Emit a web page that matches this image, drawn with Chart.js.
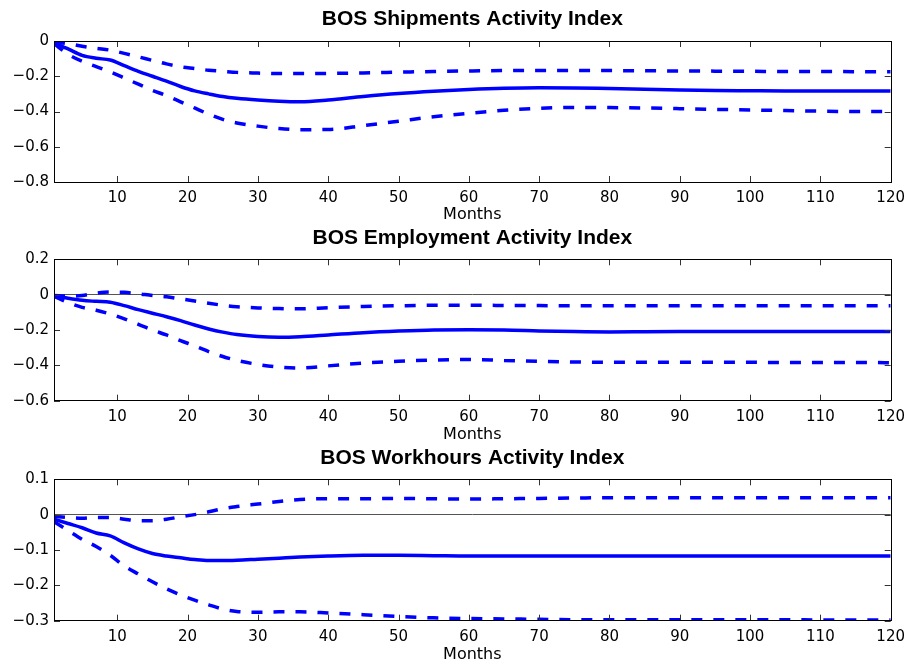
<!DOCTYPE html>
<html>
<head>
<meta charset="utf-8">
<title>BOS Activity Index responses</title>
<script src="https://cdn.jsdelivr.net/npm/chart.js@4.4.1/dist/chart.umd.min.js"></script>
<style>
  html, body { margin: 0; padding: 0; background: #fff; }
  #wrap { position: relative; width: 912px; height: 669px; }
  canvas { position: absolute; left: 0; }
</style>
</head>
<body>
<div id="wrap">
  <canvas id="ship" width="912" height="223" style="top:0px"></canvas>
  <canvas id="emp" width="912" height="220" style="top:223px"></canvas>
  <canvas id="work" width="912" height="220" style="top:443px"></canvas>
</div>
<script>
const months = [1, 3, 5, 7, 9, 11, 13, 15, 17, 19, 21, 23, 25, 27, 30, 33, 36, 40, 45, 50,
  55, 60, 65, 70, 75, 80, 85, 90, 95, 100, 105, 110, 115, 120];
const monthTicks = [10, 20, 30, 40, 50, 60, 70, 80, 90, 100, 110, 120];

// BOS Shipments
const shipSolid = [-0.01, -0.045, -0.082, -0.098, -0.108, -0.14, -0.172, -0.2, -0.228, -0.258,
  -0.283, -0.3, -0.315, -0.325, -0.335, -0.342, -0.345, -0.335, -0.315, -0.298,
  -0.285, -0.275, -0.268, -0.265, -0.266, -0.27, -0.274, -0.278, -0.281, -0.282,
  -0.283, -0.283, -0.283, -0.283];
const shipUpper = [-0.005, -0.015, -0.03, -0.042, -0.052, -0.07, -0.09, -0.11, -0.13, -0.146,
  -0.156, -0.166, -0.172, -0.178, -0.182, -0.185, -0.185, -0.184, -0.181, -0.177,
  -0.173, -0.17, -0.168, -0.167, -0.167, -0.168, -0.169, -0.17, -0.171, -0.172,
  -0.173, -0.173, -0.174, -0.174];
const shipLower = [-0.015, -0.075, -0.115, -0.145, -0.175, -0.21, -0.245, -0.28, -0.31, -0.345,
  -0.38, -0.415, -0.445, -0.465, -0.483, -0.497, -0.503, -0.502, -0.48, -0.455,
  -0.43, -0.41, -0.393, -0.382, -0.377, -0.378, -0.38, -0.384, -0.388, -0.391,
  -0.395, -0.398, -0.4, -0.4];
const shipTicks = [0, -0.2, -0.4, -0.6, -0.8];

// BOS Employment
const empSolid = [-0.005, -0.02, -0.032, -0.038, -0.043, -0.062, -0.085, -0.105, -0.125, -0.147,
  -0.172, -0.194, -0.212, -0.226, -0.237, -0.241, -0.238, -0.228, -0.215, -0.206,
  -0.2, -0.199, -0.2, -0.205, -0.209, -0.211, -0.21, -0.209, -0.208, -0.208,
  -0.208, -0.208, -0.208, -0.208];
const empUpper = [-0.005, -0.008, -0.005, 0.008, 0.015, 0.013, 0.005, -0.005, -0.012, -0.024,
  -0.036, -0.049, -0.06, -0.068, -0.075, -0.079, -0.08, -0.074, -0.067, -0.063,
  -0.06, -0.06, -0.061, -0.062, -0.063, -0.063, -0.063, -0.063, -0.063, -0.063,
  -0.063, -0.063, -0.063, -0.063];
const empLower = [-0.01, -0.045, -0.072, -0.088, -0.11, -0.137, -0.168, -0.2, -0.228, -0.26,
  -0.29, -0.322, -0.35, -0.372, -0.395, -0.41, -0.415, -0.403, -0.387, -0.377,
  -0.37, -0.367, -0.372, -0.377, -0.381, -0.383, -0.383, -0.383, -0.383, -0.383,
  -0.384, -0.384, -0.384, -0.385];
const empTicks = [0.2, 0, -0.2, -0.4, -0.6];

// BOS Workhours
const workSolid = [-0.013, -0.025, -0.037, -0.052, -0.06, -0.08, -0.097, -0.11, -0.117, -0.122,
  -0.127, -0.13, -0.13, -0.129, -0.126, -0.123, -0.12, -0.117, -0.115, -0.115,
  -0.116, -0.117, -0.117, -0.117, -0.117, -0.117, -0.117, -0.117, -0.117, -0.117,
  -0.117, -0.117, -0.117, -0.117];
const workUpper = [-0.005, -0.008, -0.01, -0.008, -0.008, -0.013, -0.017, -0.017, -0.013, -0.006,
  0, 0.008, 0.017, 0.023, 0.03, 0.037, 0.043, 0.045, 0.045, 0.046,
  0.045, 0.044, 0.045, 0.046, 0.047, 0.048, 0.048, 0.048, 0.048, 0.048,
  0.048, 0.048, 0.048, 0.048];
const workLower = [-0.02, -0.045, -0.07, -0.09, -0.115, -0.145, -0.168, -0.19, -0.21, -0.227,
  -0.242, -0.255, -0.267, -0.274, -0.276, -0.275, -0.275, -0.278, -0.283, -0.288,
  -0.292, -0.294, -0.295, -0.296, -0.297, -0.297, -0.297, -0.297, -0.297, -0.297,
  -0.297, -0.298, -0.298, -0.298];
const workTicks = [0.1, 0, -0.1, -0.2, -0.3];

const BLUE = "#0000ff";
const SANS = "'DejaVu Sans', sans-serif";

// matlab style box with inward tick marks
const matlabBox = {
  id: "matlabBox",
  afterDatasetsDraw(chart) {
    const { ctx, chartArea: a, scales } = chart;
    const len = 6;
    ctx.save();
    ctx.strokeStyle = "#333";
    ctx.lineWidth = 1;
    ctx.beginPath();
    scales.x.ticks.forEach(t => {
      const px = Math.round(scales.x.getPixelForValue(t.value)) + 0.5;
      ctx.moveTo(px, a.bottom); ctx.lineTo(px, a.bottom - len);
      ctx.moveTo(px, a.top); ctx.lineTo(px, a.top + len);
    });
    scales.y.ticks.forEach(t => {
      const py = Math.round(scales.y.getPixelForValue(t.value)) + 0.5;
      ctx.moveTo(a.left, py); ctx.lineTo(a.left + len, py);
      ctx.moveTo(a.right, py); ctx.lineTo(a.right - len, py);
    });
    ctx.stroke();
    ctx.strokeStyle = "#000";
    ctx.strokeRect(Math.round(a.left) + 0.5, Math.round(a.top) + 0.5,
      Math.round(a.width), Math.round(a.height));
    ctx.restore();
  }
};

function pts(arr) {
  return months.map((m, i) => ({ x: m, y: arr[i] }));
}

function makePanel(id, title, solid, upper, lower, yTicks, lay) {
  const line = (data, dashed) => ({
    data: pts(data),
    borderColor: BLUE,
    borderWidth: 3.5,
    borderDash: dashed ? [11, 11] : [],
    pointRadius: 0,
    cubicInterpolationMode: "monotone",
    fill: false
  });
  return new Chart(document.getElementById(id), {
    type: "line",
    data: { datasets: [line(upper, true), line(solid, false), line(lower, true)] },
    plugins: [matlabBox],
    options: {
      responsive: false,
      animation: false,
      layout: { padding: { left: 0, right: 18, top: 0, bottom: 0 } },
      plugins: {
        legend: { display: false },
        tooltip: { enabled: false },
        title: {
          display: true,
          text: title,
          fullSize: false,
          color: "#000",
          font: { family: "'Liberation Sans', Arial, sans-serif", size: 21, weight: "bold", lineHeight: 1.2 },
          padding: { top: lay.titleTop, bottom: lay.titleBottom }
        }
      },
      scales: {
        x: {
          type: "linear",
          min: 1,
          max: 120,
          afterBuildTicks: s => { s.ticks = monthTicks.map(v => ({ value: v })); },
          afterFit: s => { s.height = lay.xHeight; },
          grid: { display: false, drawTicks: false },
          border: { display: false },
          ticks: { color: "#000", padding: 7, maxRotation: 0, font: { family: SANS, size: 15 } },
          title: {
            display: true,
            text: "Months",
            color: "#000",
            font: { family: SANS, size: 16, lineHeight: 1 },
            padding: { top: 0, bottom: 0 }
          }
        },
        y: {
          min: yTicks[yTicks.length - 1],
          max: yTicks[0],
          afterBuildTicks: s => { s.ticks = yTicks.map(v => ({ value: v })); },
          afterFit: s => { s.width = 54; },
          grid: {
            drawTicks: false,
            color: c => (c.tick && c.tick.value === 0 ? "#555" : "rgba(0,0,0,0)"),
            lineWidth: 1
          },
          border: { display: false },
          ticks: {
            color: "#000",
            padding: 5,
            font: { family: SANS, size: 15 },
            callback: v => (Math.abs(v) < 1e-9 ? "0" : v.toFixed(1).replace("-", "\u2212"))
          }
        }
      }
    }
  });
}

makePanel("ship", "BOS Shipments Activity Index", shipSolid, shipUpper, shipLower, shipTicks,
  { titleTop: 6.4, titleBottom: 9.4, xHeight: 41 });
makePanel("emp", "BOS Employment Activity Index", empSolid, empUpper, empLower, empTicks,
  { titleTop: 2.4, titleBottom: 8.7, xHeight: 42.3 });
makePanel("work", "BOS Workhours Activity Index", workSolid, workUpper, workLower, workTicks,
  { titleTop: 2.4, titleBottom: 8.7, xHeight: 42.3 });
</script>
</body>
</html>
